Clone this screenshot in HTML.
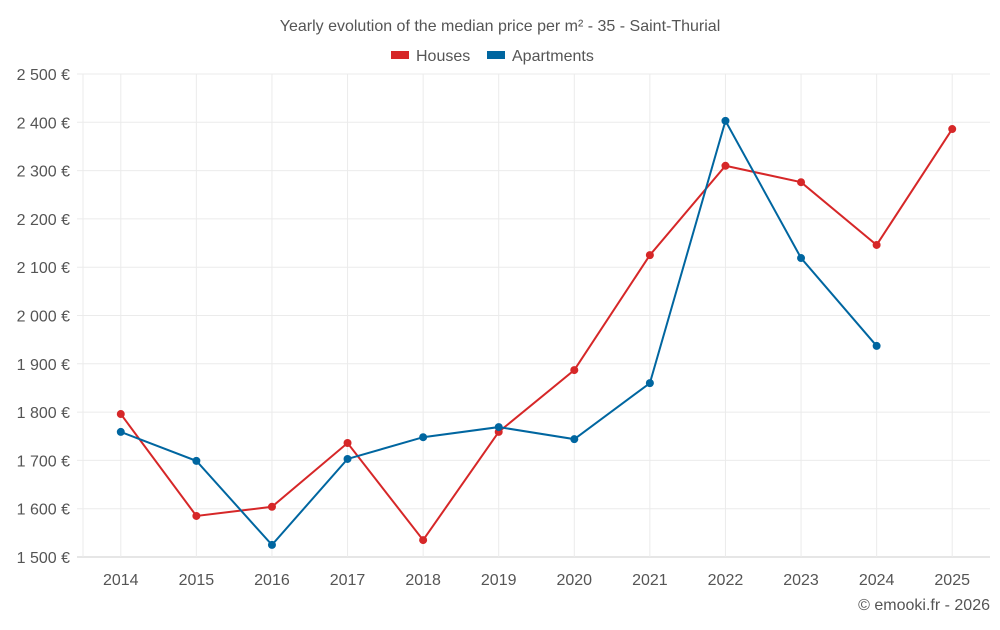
<!DOCTYPE html>
<html><head><meta charset="utf-8"><style>
body{margin:0;background:#fff;font-family:"Liberation Sans",sans-serif;}
svg text{font-family:"Liberation Sans",sans-serif;fill:#555;}
</style></head><body>
<svg id="chart" width="1000" height="625">
<text x="500" y="31" text-anchor="middle" font-size="16">Yearly evolution of the median price per m² - 35 - Saint-Thurial</text>
<g>
<rect x="391" y="51" width="18" height="8" fill="#d62728"/>
<text x="416" y="61" font-size="16">Houses</text>
<rect x="487" y="51" width="18" height="8" fill="#0066a0"/>
<text x="512" y="61" font-size="16">Apartments</text>
</g>
<g id="grid"></g><g id="axes"></g><g id="series"></g>
<text x="990" y="610" text-anchor="end" font-size="16">© emooki.fr - 2026</text>
</svg>
<script>
const years=[2014,2015,2016,2017,2018,2019,2020,2021,2022,2023,2024,2025];
const houses=[1796,1585,1604,1736,1535,1759,1887,2125,2310,2276,2146,2386];
const apartments=[1759,1699,1525,1703,1748,1769,1744,1860,2403,2119,1937,null];
const yTicks=[1500,1600,1700,1800,1900,2000,2100,2200,2300,2400,2500];
const L=83,R=990,T=74,B=557,yMin=1500,yMax=2500;
const ns="http://www.w3.org/2000/svg";
const step=(R-L)/years.length;
const xs=i=>L+step*(i+0.5);
const ys=v=>B-(v-yMin)/(yMax-yMin)*(B-T);
function mk(t,a,p){const e=document.createElementNS(ns,t);for(const k in a)e.setAttribute(k,a[k]);p.appendChild(e);return e;}
const grid=document.getElementById('grid'),axes=document.getElementById('axes'),ser=document.getElementById('series');
yTicks.forEach(v=>{
 const l=mk('line',{x1:77,x2:R,y1:ys(v),y2:ys(v),stroke:v===yMin?'#ccc':'#ebebeb'},grid);
 
 
 const t=mk('text',{x:70,y:ys(v)+6,'text-anchor':'end','font-size':16},axes);
 t.textContent=String(v).replace(/\B(?=(\d{3})+$)/,' ')+' €';
 
 
});
const ax=mk('line',{x1:L,x2:L,y1:T,y2:B,stroke:'#ebebeb'},grid);


years.forEach((y,i)=>{
 const l=mk('line',{x1:xs(i),x2:xs(i),y1:T,y2:B,stroke:'#ebebeb'},grid);
 
 
 const t=mk('text',{x:xs(i),y:585,'text-anchor':'middle','font-size':16},axes);
 t.textContent=y;
 
 
});
function draw(vals,color,name){
 let d='';vals.forEach((v,i)=>{if(v==null)return;d+=(d?'L':'M')+xs(i)+','+ys(v);});
 const p=mk('path',{d:d,fill:'none',stroke:color,'stroke-width':2},ser);
 
 
 vals.forEach((v,i)=>{if(v==null)return;
  const c=mk('circle',{cx:xs(i),cy:ys(v),r:4,fill:color},ser);
  
  
 });
}
draw(houses,'#d62728','houses');
draw(apartments,'#0066a0','apartments');
</script>
</body></html>
